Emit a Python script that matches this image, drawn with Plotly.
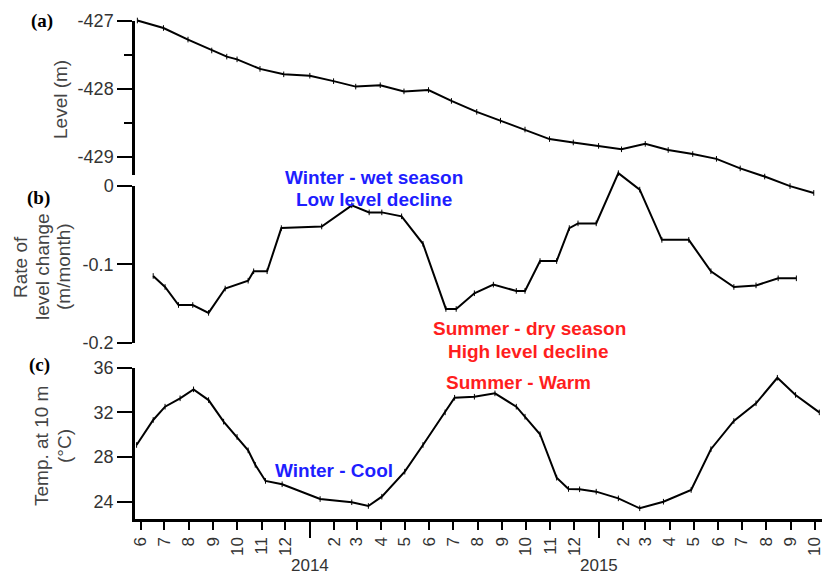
import plotly.graph_objects as go

# ---------------- data ----------------
level_dates = ["2013-05-28", "2013-06-30", "2013-07-31", "2013-08-30", "2013-09-18", "2013-10-01",
               "2013-10-30", "2013-11-29", "2014-01-01", "2014-01-31", "2014-02-28", "2014-03-31",
               "2014-04-30", "2014-05-31", "2014-06-29", "2014-07-31", "2014-08-30", "2014-09-30",
               "2014-10-31", "2014-11-30", "2015-01-01", "2015-01-30", "2015-03-01", "2015-03-30",
               "2015-04-30", "2015-05-30", "2015-06-29", "2015-07-30", "2015-08-31", "2015-09-30"]
level_m = [-427.00, -427.11, -427.28, -427.44, -427.53, -427.57, -427.71, -427.79, -427.81, -427.89,
           -427.97, -427.95, -428.04, -428.02, -428.18, -428.34, -428.47, -428.60, -428.74, -428.79,
           -428.84, -428.89, -428.81, -428.90, -428.96, -429.03, -429.17, -429.29, -429.43, -429.53]

rate_dates = ["2013-06-17", "2013-07-02", "2013-07-19", "2013-08-06", "2013-08-26", "2013-09-16",
              "2013-10-15", "2013-10-22", "2013-11-08", "2013-11-26", "2014-01-16", "2014-02-23",
              "2014-03-17", "2014-04-02", "2014-04-27", "2014-05-24", "2014-06-22", "2014-07-05",
              "2014-07-28", "2014-08-21", "2014-09-19", "2014-09-30", "2014-10-19", "2014-11-09",
              "2014-11-25", "2014-12-06", "2014-12-29", "2015-01-26", "2015-02-22", "2015-03-22",
              "2015-04-25", "2015-05-23", "2015-06-21", "2015-07-19", "2015-08-16", "2015-09-08"]
rate_m_per_month = [-0.115, -0.129, -0.152, -0.152, -0.162, -0.131, -0.121, -0.109, -0.109, -0.054,
                    -0.052, -0.025, -0.034, -0.034, -0.039, -0.074, -0.157, -0.157, -0.137, -0.126,
                    -0.134, -0.134, -0.096, -0.096, -0.054, -0.048, -0.048, 0.016, -0.005, -0.069,
                    -0.069, -0.109, -0.129, -0.127, -0.118, -0.118]

temp_dates = ["2013-05-27", "2013-06-17", "2013-07-02", "2013-07-21", "2013-08-07", "2013-08-26",
              "2013-09-14", "2013-10-01", "2013-10-15", "2013-10-24", "2013-11-06", "2013-11-27",
              "2014-01-14", "2014-02-23", "2014-03-16", "2014-04-02", "2014-05-01", "2014-05-24",
              "2014-06-21", "2014-07-03", "2014-07-28", "2014-08-23", "2014-09-19", "2014-09-30",
              "2014-10-19", "2014-11-09", "2014-11-24", "2014-12-08", "2014-12-29", "2015-01-26",
              "2015-02-22", "2015-03-24", "2015-04-28", "2015-05-23", "2015-06-21", "2015-07-19",
              "2015-08-15", "2015-09-07", "2015-10-07"]
temp_c = [29.08, 31.32, 32.51, 33.26, 34.06, 33.10, 31.17, 29.80, 28.60, 27.30, 25.86, 25.56, 24.24,
          23.95, 23.62, 24.45, 26.69, 29.08, 32.00, 33.31, 33.40, 33.70, 32.51, 31.61, 30.04, 26.15,
          25.14, 25.11, 24.90, 24.30, 23.41, 24.00, 25.05, 28.70, 31.23, 32.81, 35.10, 33.56, 32.00]

# tick labels
month_tick_dates = ["2013-06-01", "2013-07-01", "2013-08-01", "2013-09-01", "2013-10-01", "2013-11-01",
                    "2013-12-01", "2014-02-01", "2014-03-01", "2014-04-01", "2014-05-01", "2014-06-01",
                    "2014-07-01", "2014-08-01", "2014-09-01", "2014-10-01", "2014-11-01", "2014-12-01",
                    "2015-02-01", "2015-03-01", "2015-04-01", "2015-05-01", "2015-06-01", "2015-07-01",
                    "2015-08-01", "2015-09-01", "2015-10-01"]
month_tick_labels = ["6", "7", "8", "9", "10", "11", "12", "2", "3", "4", "5", "6", "7", "8", "9",
                     "10", "11", "12", "2", "3", "4", "5", "6", "7", "8", "9", "10"]
year_tick_dates = ["2014-01-01", "2015-01-01"]
year_tick_labels = ["2014", "2015"]

level_ticks = [-427, -428, -429]
level_ticktext = ["-427", "-428", "-429"]
level_minor_ticks = [-427.5, -428.5]
rate_ticks = [0, -0.1, -0.2]
rate_ticktext = ["0", "-0.1", "-0.2"]
temp_ticks = [24, 28, 32, 36]
temp_ticktext = ["24", "28", "32", "36"]

# ---------------- layout geometry (page pixels) ----------------
PAGE_W, PAGE_H = 830, 576
OFF = 8                       # page body margin: the figure starts at (8, 8)
W, H = PAGE_W - OFF, PAGE_H - OFF
PLOT_L, PLOT_R, PLOT_T, PLOT_B = 135, 828, 10, 526   # plot area in page pixels
ML, MR, MT, MB = PLOT_L - OFF, PAGE_W - PLOT_R, PLOT_T - OFF, PAGE_H - PLOT_B
PH = PLOT_B - PLOT_T
PW = PLOT_R - PLOT_L


def fy(px):
    return (PLOT_B - px) / PH


def fx(px):
    return (px - PLOT_L) / PW


def rng(top_px, bot_px, ref_px, ref_val, ppu):
    return [ref_val - (bot_px - ref_px) / ppu, ref_val + (ref_px - top_px) / ppu]


A_REF, A_VAL, A_PPU = 20.5, -427.0, 68.15
B_REF, B_VAL, B_PPU = 185.7, 0.0, 785.0
C_REF, C_VAL, C_PPU = 367.7, 36.0, 11.167
X_AXIS_PX = 518.5

TXT = "#333333"
FONT = "Liberation Sans, Arial, sans-serif"
BLUE = "#1e1eff"
RED = "#ff1e1e"

fig = go.Figure()


def data_trace(x, y, yaxis):
    return go.Scatter(x=x, y=y, xaxis="x", yaxis=yaxis, mode="lines+markers",
                      line=dict(color="black", width=2),
                      marker=dict(symbol="line-ns", size=4, color="black",
                                  line=dict(color="black", width=1)),
                      showlegend=False, hoverinfo="x+y")


fig.add_trace(data_trace(level_dates, level_m, "y"))
fig.add_trace(data_trace(rate_dates, rate_m_per_month, "y2"))
fig.add_trace(data_trace(temp_dates, temp_c, "y3"))
for ya in ["y4", "y5", "y6"]:
    fig.add_trace(go.Scatter(x=[], y=[], xaxis="x", yaxis=ya, showlegend=False, hoverinfo="skip"))

hidden = dict(visible=False, showgrid=False, zeroline=False, anchor="x", fixedrange=True)
vis = dict(showline=True, linewidth=2.5, linecolor="black", ticks="outside", ticklen=15,
           tickwidth=2, tickcolor="black", showgrid=False, zeroline=False, anchor="x",
           tickmode="array", tickfont=dict(family=FONT, size=18, color=TXT), fixedrange=True)

fig.update_layout(
    width=W, height=H, template="none",
    paper_bgcolor="white", plot_bgcolor="rgba(0,0,0,0)",
    margin=dict(l=ML, r=MR, t=MT, b=MB),
    showlegend=False,
    xaxis=dict(
        domain=[0, 1], range=["2013-05-25", "2015-10-18"], type="date", anchor="y6",
        showline=True, linewidth=2.5, linecolor="black", showgrid=False, zeroline=False,
        ticks="outside", ticklen=9, tickwidth=2, tickcolor="black",
        tickmode="array", tickvals=month_tick_dates, ticktext=month_tick_labels,
        tickangle=-90, tickfont=dict(family=FONT, size=17, color=TXT),
        minor=dict(tickmode="array", tickvals=year_tick_dates, ticks="outside", ticklen=17,
                   tickwidth=2, tickcolor="black", showgrid=False),
        fixedrange=True,
    ),
    # hidden data axes (extended so lines may overflow the drawn axes, as in the reference)
    yaxis=dict(hidden, domain=[fy(205), fy(12)], range=rng(12, 205, A_REF, A_VAL, A_PPU)),
    yaxis2=dict(hidden, domain=[fy(352), fy(160)], range=rng(160, 352, B_REF, B_VAL, B_PPU)),
    yaxis3=dict(hidden, domain=[fy(X_AXIS_PX), fy(358)], range=rng(358, X_AXIS_PX, C_REF, C_VAL, C_PPU)),
    # visible axes
    yaxis4=dict(vis, domain=[fy(175), fy(A_REF)], range=rng(A_REF, 175, A_REF, A_VAL, A_PPU),
                tickvals=level_ticks, ticktext=level_ticktext,
                minor=dict(tickmode="array", tickvals=level_minor_ticks, ticks="outside",
                           ticklen=8, tickwidth=2, tickcolor="black", showgrid=False)),
    yaxis5=dict(vis, domain=[fy(342.7), fy(B_REF)], range=rng(B_REF, 342.7, B_REF, B_VAL, B_PPU),
                tickvals=rate_ticks, ticktext=rate_ticktext),
    yaxis6=dict(vis, domain=[fy(X_AXIS_PX), fy(C_REF)], range=rng(C_REF, X_AXIS_PX, C_REF, C_VAL, C_PPU),
                tickvals=temp_ticks, ticktext=temp_ticktext),
)

ann = []


def text(x_px, y_px, s, size, color, bold=False, angle=0, family=FONT):
    ann.append(dict(xref="paper", yref="paper", x=fx(x_px), y=fy(y_px), text=("<b>%s</b>" % s) if bold else s,
                    showarrow=False, xanchor="center", yanchor="middle", textangle=angle,
                    font=dict(family=family, size=size, color=color)))


SERIF = "Liberation Serif, Times New Roman, serif"
text(42, 21, "(a)", 19, "black", bold=True, family=SERIF)
text(38, 198, "(b)", 19, "black", bold=True, family=SERIF)
text(39, 365, "(c)", 19, "black", bold=True, family=SERIF)

TITLE = "#444444"
text(61, 100, "Level (m)", 19, TITLE, angle=-90)
text(20, 267, "Rate of", 19, TITLE, angle=-90)
text(42, 267, "level change", 19, TITLE, angle=-90)
text(63, 267, "(m/month)", 19, TITLE, angle=-90)
text(41, 446, "Temp. at 10 m", 19, TITLE, angle=-90)
text(64, 446, "(°C)", 19, TITLE, angle=-90)

text(374, 177, "Winter - wet season", 19, BLUE, bold=True)
text(374, 199, "Low level decline", 19, BLUE, bold=True)
text(529, 328, "Summer - dry season", 19, RED, bold=True)
text(528, 351, "High level decline", 19, RED, bold=True)
text(518, 382, "Summer - Warm", 19, RED, bold=True)
text(334, 470, "Winter - Cool", 19, BLUE, bold=True)

for d, lab in zip(year_tick_dates, year_tick_labels):
    ann.append(dict(xref="x", yref="paper", x=d, y=fy(565), text=lab, showarrow=False,
                    xanchor="center", yanchor="middle", font=dict(family=FONT, size=17, color=TXT)))

fig.update_layout(annotations=ann)
fig.write_html("out.html")
